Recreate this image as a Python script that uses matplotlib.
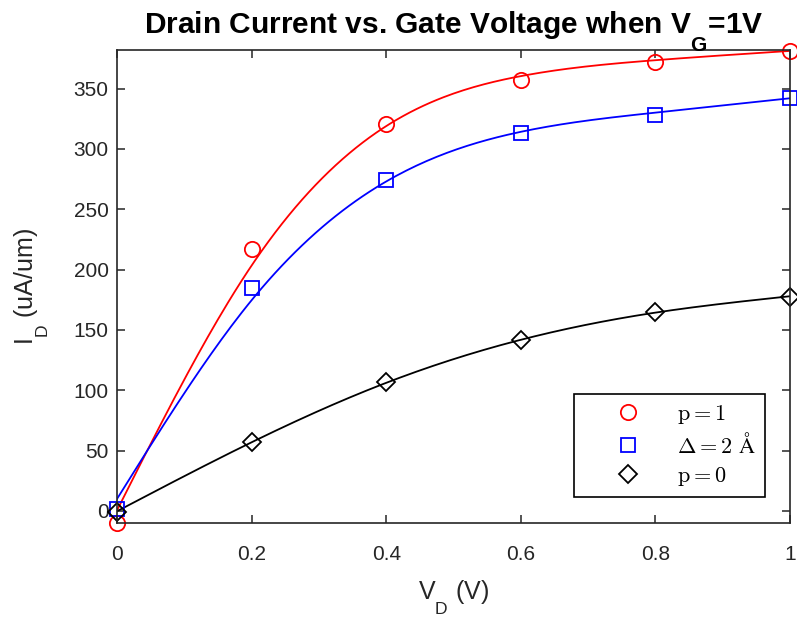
import matplotlib
matplotlib.use("Agg")
import matplotlib.pyplot as plt
from matplotlib.font_manager import FontProperties
import numpy as np

plt.rcParams['font.family'] = ['Liberation Sans', 'DejaVu Sans']
plt.rcParams['mathtext.fontset'] = 'custom'
plt.rcParams['mathtext.rm'] = 'Liberation Sans'
plt.rcParams['mathtext.bf'] = 'Liberation Sans:bold'

# push subscripts further down, like matlab does
try:
    import matplotlib._mathtext as _mt
    _mt.FontConstantsBase.sub1 = 1.1
except Exception:
    pass

# data
vd = [0, 0.2, 0.4, 0.6, 0.8, 1.0]
id_p1 = [-10, 217, 321, 357, 372, 381]
id_delta = [2, 185, 274, 313, 328, 342]
id_p0 = [-1, 57, 107, 142, 165, 177]

try:
    from matplotlib import _mathtext_data
    ang = r'\AA' if 'AA' in _mathtext_data.tex2uni else 'Å'
except Exception:
    ang = 'Å'
labels = [r'$\mathrm{p}{=}\mathrm{1}$',
          r'$\Delta{=}\mathrm{2\ ' + ang + '}$',
          r'$\mathrm{p}{=}\mathrm{0}$']


def smooth_spline(x, y, lam=6000.0, n=201):
    # penalised least squares on a fine grid (second differences),
    # behaves like a cubic smoothing spline
    grid = np.linspace(min(x), max(x), n)
    idx = [int(round((v - grid[0]) / (grid[1] - grid[0]))) for v in x]
    W = np.zeros((n, n))
    wy = np.zeros(n)
    for i, v in zip(idx, y):
        W[i, i] += 1.0
        wy[i] += v
    D = np.diff(np.eye(n), 2, axis=0)
    z = np.linalg.solve(W + lam * D.T.dot(D), wy)
    return grid, z


fig = plt.figure(figsize=(7.97, 6.23), dpi=100)
ax = fig.add_axes([0.1468, 0.1605, 0.8444, 0.7592])

for y, col in [(id_p1, 'red'), (id_delta, 'blue'), (id_p0, 'black')]:
    gx, gz = smooth_spline(vd, y)
    ax.plot(gx, gz, color=col, lw=1.3)

h1, = ax.plot(vd, id_p1, 'o', mfc='none', mec='red', ms=11, mew=1.3, clip_on=False)
h2, = ax.plot(vd, id_delta, 's', mfc='none', mec='blue', ms=10, mew=1.3, clip_on=False)
h3, = ax.plot(vd, id_p0, 'D', mfc='none', mec='black', ms=9, mew=1.3, clip_on=False)

ax.set_xlim(0, 1)
ax.set_ylim(-10, 382)
ax.set_xticks([0, 0.2, 0.4, 0.6, 0.8, 1])
ax.set_xticklabels(['0', '0.2', '0.4', '0.6', '0.8', '1'])
ax.set_yticks(range(0, 351, 50))
ax.tick_params(direction='in', top=True, right=True, labelsize=15, colors='#262626',
               length=6, width=1.1)
ax.tick_params(axis='x', pad=16)
ax.tick_params(axis='y', pad=6)
for s in ax.spines.values():
    s.set_color('#262626')
    s.set_linewidth(1.2)

ax.set_title(r'Drain Current vs. Gate Voltage when V$_\mathbf{G}$=1V', fontsize=21.5,
             fontweight='bold', pad=12)
ax.set_xlabel(r'V$_\mathrm{D}$ (V)', fontsize=18, color='#262626', labelpad=10)
ax.set_ylabel(r'I$_\mathrm{D}$ (uA/um)', fontsize=18, color='#262626', labelpad=16)

leg = ax.legend([h1, h2, h3], labels,
                loc='lower left', bbox_to_anchor=(0.679, 0.055),
                prop=FontProperties(family='DejaVu Serif', size=16, math_fontfamily='cm'),
                fancybox=False, edgecolor='black', framealpha=1,
                handletextpad=0.15, borderpad=0.4, borderaxespad=0,
                labelspacing=0.32, handlelength=4.1)
leg.get_frame().set_linewidth(1.2)

fig.savefig('out.png', dpi=100)
